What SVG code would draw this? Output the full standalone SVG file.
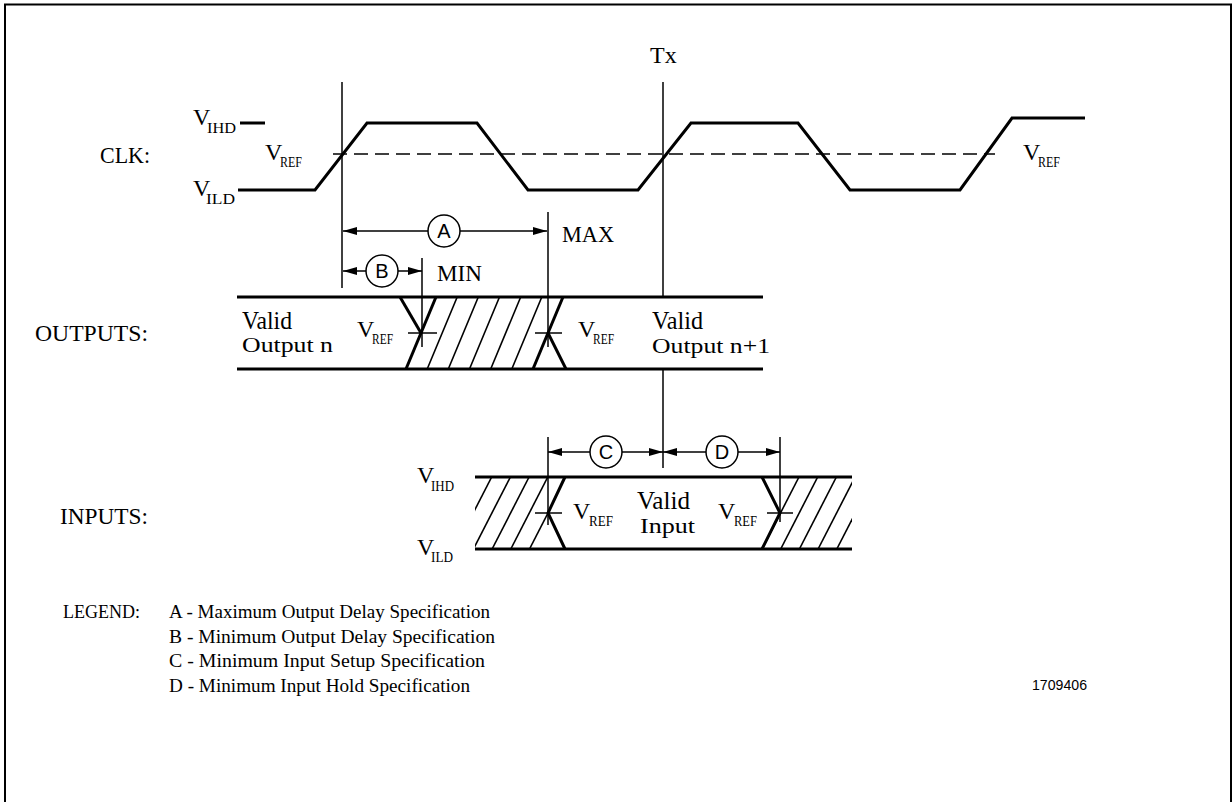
<svg xmlns="http://www.w3.org/2000/svg" width="1232" height="802" viewBox="0 0 1232 802">
<style>
text{font-family:"Liberation Serif","Times New Roman",serif;fill:#000}
.lbl{font-size:24px}
.v{font-size:24px}
.sub{font-size:14px}
.leg{font-size:19px}
.thick{stroke:#000;stroke-width:3;fill:none}
.thin{stroke:#000;stroke-width:1.5;fill:none}
.hatch{stroke:#000;stroke-width:1.6;fill:none}
.dim{stroke:#000;stroke-width:1.5;fill:none;marker-start:url(#arr);marker-end:url(#arr)}
.circ{fill:#fff;stroke:#000;stroke-width:1.5}
.cl{font-family:"Liberation Sans",Arial,sans-serif;font-size:20px;text-anchor:middle}
.valid{font-size:25px}
.out{font-size:22px}
</style>
<defs>
<marker id="arr" markerUnits="userSpaceOnUse" markerWidth="14" markerHeight="8" refX="14" refY="4" orient="auto-start-reverse">
<path d="M0,0 L14,4 L0,8 z" fill="#000"/>
</marker>
<clipPath id="inL"><polygon points="475,477 565,477 548,513 565,549 475,549"/></clipPath>
<clipPath id="inR"><polygon points="762,477 852,477 852,549 762,549 780,513"/></clipPath>
</defs>
<rect width="1232" height="802" fill="#fff"/>
<path d="M5,802 V4.5 H1231 V802" fill="none" stroke="#000" stroke-width="2"/>

<g id="labels">
<text class="lbl" x="100" y="163" textLength="50" lengthAdjust="spacingAndGlyphs">CLK:</text>
<text class="lbl" x="35" y="341" textLength="113" lengthAdjust="spacingAndGlyphs">OUTPUTS:</text>
<text class="lbl" x="60" y="524" textLength="88" lengthAdjust="spacingAndGlyphs">INPUTS:</text>
<text class="lbl" x="650" y="63">Tx</text>
<text class="lbl" x="562" y="242" textLength="52" lengthAdjust="spacingAndGlyphs">MAX</text>
<text class="lbl" x="437" y="281" textLength="45" lengthAdjust="spacingAndGlyphs">MIN</text>
</g>

<g id="clk">
<line class="thick" x1="240" y1="123" x2="265" y2="123"/>
<polyline class="thick" points="238,190 315,190 367,123 477,123 528,190 638,190 691,123 798,123 850,190 960,190 1012,118 1085,118"/>
<line class="thin" x1="333" y1="154" x2="995" y2="154" stroke-dasharray="14 7"/>
<text class="v" x="193" y="125">V</text><text class="sub" x="207" y="133" textLength="29" lengthAdjust="spacingAndGlyphs">IHD</text>
<text class="v" x="193" y="196">V</text><text class="sub" x="206" y="204" textLength="29" lengthAdjust="spacingAndGlyphs">ILD</text>
<text class="v" x="265" y="160">V</text><text class="sub" x="280" y="167" textLength="22" lengthAdjust="spacingAndGlyphs">REF</text>
<text class="v" x="1023" y="160">V</text><text class="sub" x="1038" y="167" textLength="22" lengthAdjust="spacingAndGlyphs">REF</text>
</g>

<g id="outputs">
<line class="thick" x1="237" y1="297" x2="763" y2="297"/>
<line class="thick" x1="237" y1="369" x2="763" y2="369"/>
<line class="thick" x1="400" y1="297" x2="421" y2="333"/>
<line class="thick" x1="406" y1="369" x2="436" y2="297"/>
<line class="hatch" x1="427.2" y1="369" x2="457.2" y2="297"/>
<line class="hatch" x1="448.3" y1="369" x2="478.3" y2="297"/>
<line class="hatch" x1="469.5" y1="369" x2="499.5" y2="297"/>
<line class="hatch" x1="490.7" y1="369" x2="520.7" y2="297"/>
<line class="hatch" x1="511.8" y1="369" x2="541.8" y2="297"/>
<line class="thick" x1="533" y1="369" x2="563" y2="297"/>
<line class="thick" x1="548" y1="333" x2="566" y2="369"/>
<line class="thin" x1="408" y1="333" x2="437" y2="333"/>
<line class="thin" x1="535" y1="333" x2="562" y2="333"/>
<text class="valid" x="242" y="329" textLength="50" lengthAdjust="spacingAndGlyphs">Valid</text>
<text class="out" x="242" y="352" textLength="91" lengthAdjust="spacingAndGlyphs">Output n</text>
<text class="valid" x="652" y="329" textLength="51" lengthAdjust="spacingAndGlyphs">Valid</text>
<text class="out" x="652" y="353" textLength="118" lengthAdjust="spacingAndGlyphs">Output n+1</text>
<text class="v" x="357" y="337">V</text><text class="sub" x="372" y="344" textLength="21" lengthAdjust="spacingAndGlyphs">REF</text>
<text class="v" x="578" y="337">V</text><text class="sub" x="593" y="344" textLength="21" lengthAdjust="spacingAndGlyphs">REF</text>
</g>

<g id="inputs">
<line class="thick" x1="475" y1="477" x2="852" y2="477"/>
<line class="thick" x1="475" y1="549" x2="852" y2="549"/>
<g clip-path="url(#inL)">
<line class="hatch" x1="529.5" y1="549" x2="566.5" y2="477"/>
<line class="hatch" x1="510.8" y1="549" x2="547.8" y2="477"/>
<line class="hatch" x1="492.1" y1="549" x2="529.1" y2="477"/>
<line class="hatch" x1="473.4" y1="549" x2="510.4" y2="477"/>
<line class="hatch" x1="454.7" y1="549" x2="491.7" y2="477"/>
<line class="hatch" x1="436" y1="549" x2="473" y2="477"/>
</g>
<g clip-path="url(#inR)">
<line class="hatch" x1="762" y1="549" x2="799" y2="477"/>
<line class="hatch" x1="780.7" y1="549" x2="817.7" y2="477"/>
<line class="hatch" x1="799.4" y1="549" x2="836.4" y2="477"/>
<line class="hatch" x1="818.1" y1="549" x2="855.1" y2="477"/>
<line class="hatch" x1="836.8" y1="549" x2="873.8" y2="477"/>
</g>
<polyline class="thick" points="565,477 548,513 565,549"/>
<polyline class="thick" points="762,477 780,513 762,549"/>
<line class="thin" x1="535" y1="513" x2="562" y2="513"/>
<line class="thin" x1="767" y1="513" x2="793" y2="513"/>
<text class="v" x="417" y="483">V</text><text class="sub" x="431" y="491" textLength="23" lengthAdjust="spacingAndGlyphs">IHD</text>
<text class="v" x="417" y="555">V</text><text class="sub" x="431" y="562" textLength="22" lengthAdjust="spacingAndGlyphs">ILD</text>
<text class="v" x="573" y="519">V</text><text class="sub" x="589" y="526" textLength="24" lengthAdjust="spacingAndGlyphs">REF</text>
<text class="v" x="718" y="519">V</text><text class="sub" x="734" y="526" textLength="23" lengthAdjust="spacingAndGlyphs">REF</text>
<text class="valid" x="637" y="509" textLength="53" lengthAdjust="spacingAndGlyphs">Valid</text>
<text class="out" x="640" y="533" textLength="55" lengthAdjust="spacingAndGlyphs">Input</text>
</g>

<g id="connectors">
<line class="thin" x1="342" y1="82" x2="342" y2="288"/>
<line class="thin" x1="663" y1="82" x2="663" y2="297"/>
<line class="thin" x1="663" y1="369" x2="663" y2="468"/>
<line class="thin" x1="422" y1="258" x2="422" y2="347"/>
<line class="thin" x1="548" y1="212" x2="548" y2="347"/>
<line class="thin" x1="548" y1="437" x2="548" y2="525"/>
<line class="thin" x1="780" y1="437" x2="780" y2="522"/>
<line class="dim" x1="343" y1="231" x2="547" y2="231"/>
<line class="dim" x1="343" y1="271" x2="422" y2="271"/>
<line class="dim" x1="548" y1="452" x2="663" y2="452"/>
<line class="dim" x1="663" y1="452" x2="780" y2="452"/>
</g>

<g id="markA"><circle class="circ" cx="444" cy="231" r="16"/><text class="cl" x="444" y="238">A</text></g>
<g id="markB"><circle class="circ" cx="382" cy="271" r="16"/><text class="cl" x="382" y="278">B</text></g>
<g id="markC"><circle class="circ" cx="606" cy="452" r="16"/><text class="cl" x="606" y="459">C</text></g>
<g id="markD"><circle class="circ" cx="722" cy="452" r="16"/><text class="cl" x="722" y="459">D</text></g>

<g id="legend">
<text class="leg" x="63" y="618" textLength="77" lengthAdjust="spacingAndGlyphs">LEGEND:</text>
<text class="leg" x="169" y="618" textLength="321" lengthAdjust="spacingAndGlyphs">A - Maximum Output Delay Specification</text>
<text class="leg" x="169" y="643" textLength="326" lengthAdjust="spacingAndGlyphs">B - Minimum Output Delay Specification</text>
<text class="leg" x="169" y="667" textLength="316" lengthAdjust="spacingAndGlyphs">C - Minimum Input Setup Specification</text>
<text class="leg" x="169" y="692" textLength="301" lengthAdjust="spacingAndGlyphs">D - Minimum Input Hold Specification</text>
<text x="1032" y="690" style="font-family:'Liberation Sans',Arial,sans-serif;font-size:14px" textLength="55" lengthAdjust="spacingAndGlyphs">1709406</text>
</g>
</svg>
